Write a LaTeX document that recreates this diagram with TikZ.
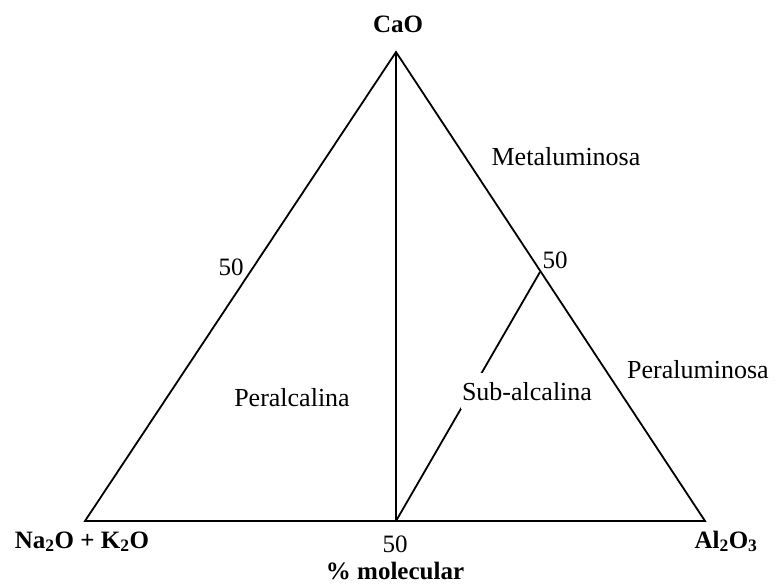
\documentclass[tikz,border=0pt]{standalone}
\usepackage{fontspec}
\setmainfont{Liberation Serif}
\usetikzlibrary{positioning}
\tikzstyle{vertexlabel} = [font=\bfseries\fontsize{25}{30}\selectfont, inner
sep=1pt, anchor=base]
\tikzstyle{fieldlabel} = [font=\fontsize{26}{30}\selectfont, inner sep=1pt,
anchor=base]
\tikzstyle{ticklabel} = [font=\fontsize{25}{30}\selectfont, inner sep=1pt,
anchor=base]
\tikzstyle{boundary} = [line width=1.8pt, line join=miter]

\begin{document}
\begin{tikzpicture}[x=1pt,y=-1pt]
    \useasboundingbox (0,0) rectangle (778,586);
    \coordinate (ca) at (396,52);
    \coordinate (na) at (85,521);
    \coordinate (al) at (705,521);
    \coordinate (mid) at (396,521);
    \coordinate (r50) at (540,272);
    \draw [boundary] (na) -- (ca) -- (al) -- cycle;
    \draw [boundary] (ca) -- (mid);
    \draw [boundary] (r50) -- (mid);
    \node (cao) [vertexlabel] at (398,33) {CaO};
    \node (naklabel) [vertexlabel] at (82,548) {Na\textsubscript{2}O + K\textsubscript{2}O};
    \node (allabel) [vertexlabel] at (726,548) {Al\textsubscript{2}O\textsubscript{3}};
    \node (b50) [ticklabel] at (395,552) {50};
    \node (mol) [vertexlabel, below=9pt of b50.base, anchor=north] {\% molecular};
    \node (l50) [ticklabel] at (231,275) {50};
    \node (rr50) [ticklabel] at (555,268) {50};
    \node (meta) [fieldlabel] at (566,165) {Metaluminosa};
    \node (peral) [fieldlabel] at (698,378) {Peraluminosa};
    \node (perc) [fieldlabel] at (292,406) {Peralcalina};
    \node (sub) [fieldlabel, fill=white, inner ysep=9pt] at (527,400) {Sub-alcalina};
\end{tikzpicture}
\end{document}
